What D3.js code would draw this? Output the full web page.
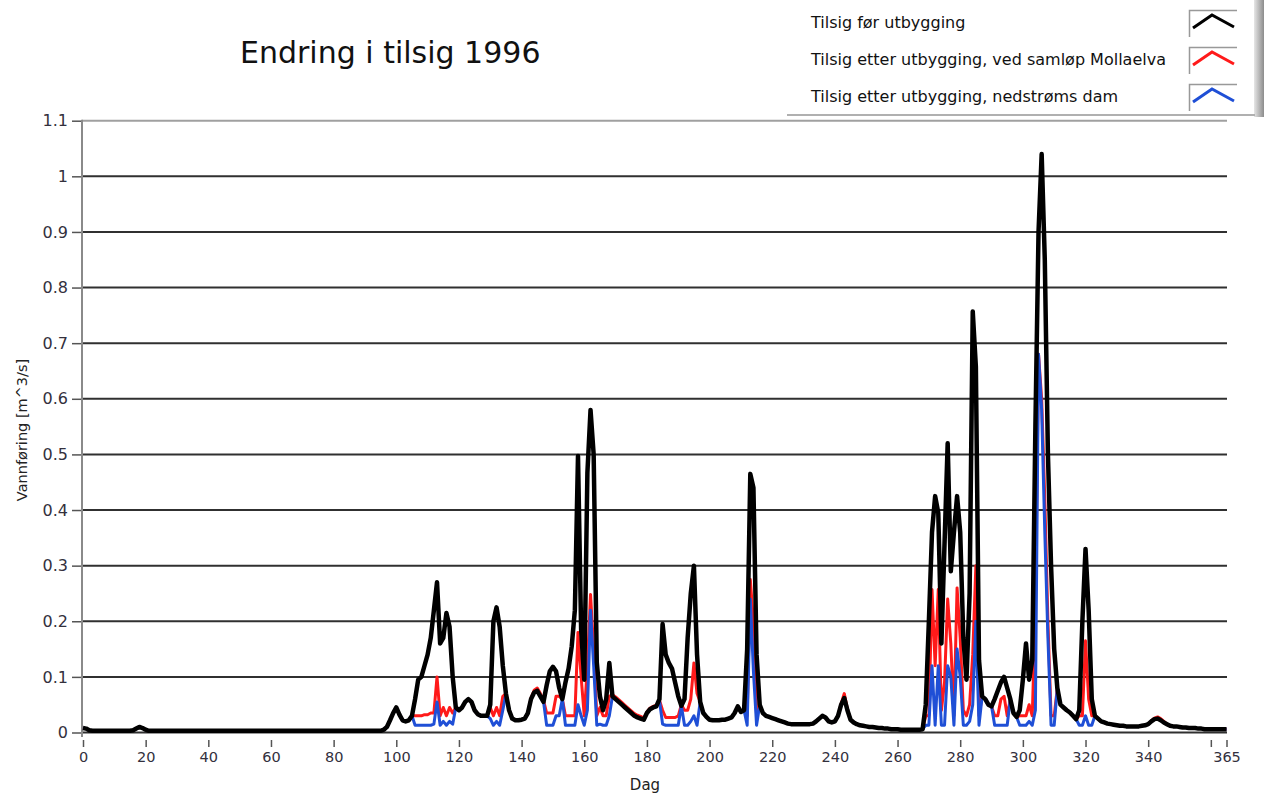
<!DOCTYPE html>
<html>
<head>
<meta charset="utf-8">
<script src="https://cdn.jsdelivr.net/npm/d3@7"></script>
<style>
  body { margin: 0; background: #fff; }
  svg { display: block; }
  text { font-family: "DejaVu Sans", Verdana, sans-serif; }
</style>
</head>
<body>
<div id="chart"></div>
<script>
// daily inflow, day 0..365 (m^3/s)
var tilsigFor = [
  0.008,0.007,0.004,0.003,0.003,0.003,0.003,0.003,0.003,0.003,
  0.003,0.003,0.003,0.003,0.003,0.003,0.004,0.007,0.01,0.008,
  0.005,0.003,0.003,0.003,0.003,0.003,0.003,0.003,0.003,0.003,
  0.003,0.003,0.003,0.003,0.003,0.003,0.003,0.003,0.003,0.003,
  0.003,0.003,0.003,0.003,0.003,0.003,0.003,0.003,0.003,0.003,
  0.003,0.003,0.003,0.003,0.003,0.003,0.003,0.003,0.003,0.003,
  0.003,0.003,0.003,0.003,0.003,0.003,0.003,0.003,0.003,0.003,
  0.003,0.003,0.003,0.003,0.003,0.003,0.003,0.003,0.003,0.003,
  0.003,0.003,0.003,0.003,0.003,0.003,0.003,0.003,0.003,0.003,
  0.003,0.003,0.003,0.003,0.003,0.003,0.005,0.01,0.022,0.035,
  0.045,0.032,0.022,0.02,0.022,0.03,0.06,0.095,0.1,0.12,
  0.14,0.17,0.22,0.27,0.16,0.17,0.215,0.19,0.1,0.045,
  0.04,0.045,0.055,0.06,0.055,0.04,0.033,0.03,0.03,0.03,
  0.05,0.2,0.225,0.19,0.12,0.07,0.04,0.025,0.022,0.022,
  0.023,0.025,0.035,0.06,0.072,0.075,0.065,0.055,0.085,0.11,
  0.118,0.11,0.08,0.06,0.09,0.115,0.155,0.22,0.497,0.185,
  0.095,0.467,0.58,0.5,0.126,0.065,0.04,0.06,0.125,0.065,
  0.06,0.055,0.05,0.045,0.04,0.035,0.03,0.027,0.025,0.023,
  0.035,0.042,0.045,0.047,0.06,0.195,0.14,0.125,0.115,0.09,
  0.065,0.048,0.06,0.17,0.25,0.3,0.14,0.055,0.035,0.028,
  0.023,0.022,0.022,0.022,0.023,0.023,0.025,0.027,0.035,0.047,
  0.037,0.04,0.15,0.465,0.44,0.14,0.05,0.035,0.03,0.028,
  0.026,0.024,0.022,0.02,0.018,0.016,0.015,0.015,0.015,0.015,
  0.015,0.015,0.015,0.016,0.02,0.025,0.03,0.027,0.02,0.018,
  0.02,0.03,0.05,0.062,0.04,0.023,0.018,0.015,0.013,0.012,
  0.011,0.01,0.01,0.009,0.008,0.008,0.007,0.007,0.006,0.006,
  0.006,0.005,0.005,0.005,0.005,0.005,0.005,0.005,0.006,0.05,
  0.2,0.36,0.425,0.395,0.16,0.34,0.52,0.29,0.36,0.425,
  0.36,0.17,0.095,0.25,0.757,0.658,0.13,0.065,0.06,0.05,
  0.047,0.06,0.075,0.09,0.1,0.08,0.06,0.035,0.028,0.04,
  0.095,0.16,0.095,0.13,0.55,0.9,1.04,0.85,0.5,0.3,
  0.15,0.08,0.05,0.045,0.04,0.036,0.03,0.024,0.04,0.2,
  0.33,0.22,0.06,0.03,0.025,0.02,0.018,0.016,0.015,0.014,
  0.013,0.012,0.012,0.011,0.011,0.011,0.011,0.011,0.012,0.013,
  0.015,0.02,0.024,0.025,0.022,0.018,0.015,0.012,0.011,0.011,
  0.01,0.009,0.009,0.008,0.008,0.008,0.007,0.007,0.006,0.006,
  0.006,0.006,0.006,0.006,0.006,0.006
];

var tilsigMollaelva = [
  0.008,0.007,0.004,0.003,0.003,0.003,0.003,0.003,0.003,0.003,
  0.003,0.003,0.003,0.003,0.003,0.003,0.004,0.007,0.01,0.008,
  0.005,0.003,0.003,0.003,0.003,0.003,0.003,0.003,0.003,0.003,
  0.003,0.003,0.003,0.003,0.003,0.003,0.003,0.003,0.003,0.003,
  0.003,0.003,0.003,0.003,0.003,0.003,0.003,0.003,0.003,0.003,
  0.003,0.003,0.003,0.003,0.003,0.003,0.003,0.003,0.003,0.003,
  0.003,0.003,0.003,0.003,0.003,0.003,0.003,0.003,0.003,0.003,
  0.003,0.003,0.003,0.003,0.003,0.003,0.003,0.003,0.003,0.003,
  0.003,0.003,0.003,0.003,0.003,0.003,0.003,0.003,0.003,0.003,
  0.003,0.003,0.003,0.003,0.003,0.003,0.005,0.01,0.022,0.035,
  0.045,0.032,0.022,0.02,0.022,0.03,0.03,0.03,0.03,0.032,
  0.032,0.035,0.035,0.1,0.03,0.045,0.03,0.045,0.035,0.045,
  0.04,0.045,0.055,0.06,0.055,0.04,0.033,0.03,0.03,0.03,
  0.045,0.03,0.045,0.03,0.065,0.07,0.04,0.025,0.022,0.022,
  0.023,0.025,0.035,0.062,0.076,0.08,0.07,0.058,0.035,0.035,
  0.035,0.065,0.065,0.06,0.03,0.03,0.03,0.03,0.18,0.1,
  0.03,0.12,0.248,0.15,0.03,0.045,0.03,0.03,0.065,0.068,
  0.064,0.059,0.054,0.049,0.044,0.039,0.034,0.031,0.029,0.026,
  0.037,0.044,0.047,0.049,0.058,0.04,0.027,0.027,0.027,0.027,
  0.03,0.05,0.04,0.04,0.06,0.125,0.07,0.055,0.035,0.028,
  0.023,0.022,0.022,0.022,0.023,0.023,0.025,0.027,0.035,0.047,
  0.037,0.04,0.03,0.275,0.2,0.03,0.05,0.035,0.03,0.028,
  0.026,0.024,0.022,0.02,0.018,0.016,0.015,0.015,0.015,0.015,
  0.015,0.015,0.015,0.016,0.02,0.025,0.03,0.027,0.02,0.018,
  0.02,0.03,0.052,0.07,0.042,0.023,0.018,0.015,0.013,0.012,
  0.011,0.01,0.01,0.009,0.008,0.008,0.007,0.007,0.006,0.006,
  0.006,0.005,0.005,0.005,0.005,0.005,0.005,0.005,0.006,0.03,
  0.03,0.257,0.12,0.257,0.04,0.09,0.24,0.16,0.03,0.26,
  0.17,0.04,0.03,0.05,0.14,0.3,0.03,0.065,0.06,0.05,
  0.047,0.03,0.03,0.06,0.065,0.03,0.06,0.035,0.028,0.03,
  0.03,0.03,0.05,0.03,0.22,0.68,0.6,0.42,0.2,0.03,
  0.03,0.08,0.05,0.045,0.04,0.036,0.03,0.024,0.03,0.03,
  0.165,0.06,0.03,0.03,0.025,0.02,0.018,0.016,0.015,0.014,
  0.013,0.012,0.012,0.011,0.011,0.011,0.011,0.011,0.012,0.013,
  0.015,0.021,0.026,0.028,0.025,0.02,0.015,0.012,0.011,0.011,
  0.01,0.009,0.009,0.008,0.008,0.008,0.007,0.007,0.006,0.006,
  0.006,0.006,0.006,0.006,0.006,0.006
];

var tilsigDam = [
  0.008,0.007,0.004,0.003,0.003,0.003,0.003,0.003,0.003,0.003,
  0.003,0.003,0.003,0.003,0.003,0.003,0.004,0.007,0.01,0.008,
  0.005,0.003,0.003,0.003,0.003,0.003,0.003,0.003,0.003,0.003,
  0.003,0.003,0.003,0.003,0.003,0.003,0.003,0.003,0.003,0.003,
  0.003,0.003,0.003,0.003,0.003,0.003,0.003,0.003,0.003,0.003,
  0.003,0.003,0.003,0.003,0.003,0.003,0.003,0.003,0.003,0.003,
  0.003,0.003,0.003,0.003,0.003,0.003,0.003,0.003,0.003,0.003,
  0.003,0.003,0.003,0.003,0.003,0.003,0.003,0.003,0.003,0.003,
  0.003,0.003,0.003,0.003,0.003,0.003,0.003,0.003,0.003,0.003,
  0.003,0.003,0.003,0.003,0.003,0.003,0.005,0.01,0.022,0.035,
  0.045,0.032,0.022,0.02,0.022,0.03,0.013,0.013,0.013,0.013,
  0.013,0.013,0.015,0.055,0.013,0.02,0.013,0.02,0.015,0.045,
  0.04,0.045,0.055,0.06,0.055,0.04,0.033,0.03,0.03,0.03,
  0.025,0.013,0.02,0.013,0.04,0.07,0.04,0.025,0.022,0.022,
  0.023,0.025,0.035,0.06,0.072,0.075,0.065,0.055,0.013,0.013,
  0.013,0.03,0.03,0.06,0.013,0.013,0.013,0.013,0.05,0.03,
  0.013,0.04,0.22,0.12,0.013,0.015,0.013,0.013,0.03,0.065,
  0.06,0.055,0.05,0.045,0.04,0.035,0.03,0.027,0.025,0.023,
  0.035,0.042,0.045,0.047,0.058,0.015,0.013,0.013,0.013,0.013,
  0.013,0.048,0.013,0.013,0.02,0.03,0.013,0.055,0.035,0.028,
  0.023,0.022,0.022,0.022,0.023,0.023,0.025,0.027,0.035,0.047,
  0.037,0.04,0.013,0.24,0.11,0.013,0.05,0.035,0.03,0.028,
  0.026,0.024,0.022,0.02,0.018,0.016,0.015,0.015,0.015,0.015,
  0.015,0.015,0.015,0.016,0.02,0.025,0.03,0.027,0.02,0.018,
  0.02,0.03,0.05,0.062,0.04,0.023,0.018,0.015,0.013,0.012,
  0.011,0.01,0.01,0.009,0.008,0.008,0.007,0.007,0.006,0.006,
  0.006,0.005,0.005,0.005,0.005,0.005,0.005,0.005,0.006,0.013,
  0.013,0.12,0.013,0.12,0.013,0.013,0.12,0.1,0.013,0.15,
  0.1,0.013,0.013,0.02,0.05,0.2,0.013,0.065,0.06,0.05,
  0.047,0.013,0.013,0.013,0.013,0.013,0.06,0.035,0.028,0.013,
  0.013,0.013,0.02,0.013,0.04,0.68,0.58,0.36,0.17,0.013,
  0.013,0.08,0.05,0.045,0.04,0.036,0.03,0.024,0.013,0.013,
  0.03,0.013,0.013,0.03,0.025,0.02,0.018,0.016,0.015,0.014,
  0.013,0.012,0.012,0.011,0.011,0.011,0.011,0.011,0.012,0.013,
  0.015,0.02,0.024,0.025,0.022,0.018,0.015,0.012,0.011,0.011,
  0.01,0.009,0.009,0.008,0.008,0.008,0.007,0.007,0.006,0.006,
  0.006,0.006,0.006,0.006,0.006,0.006
];

var yTicks = [0, 0.1, 0.2, 0.3, 0.4, 0.5, 0.6, 0.7, 0.8, 0.9, 1, 1.1];
var xTicks = [0, 20, 40, 60, 80, 100, 120, 140, 160, 180, 200, 220, 240, 260, 280, 300, 320, 340, 360, 365];
var xTickLabels = ["0","20","40","60","80","100","120","140","160","180","200","220","240","260","280","300","320","340","","365"];
var seriesNames = ["Tilsig før utbygging", "Tilsig etter utbygging, ved samløp Mollaelva", "Tilsig etter utbygging, nedstrøms dam"];
var seriesColors = ["#000000", "#ff1a1a", "#1f4fd6"];

var width = 1264, height = 796;

var svg = d3.select("#chart").append("svg")
    .attr("width", width)
    .attr("height", height);

var x = d3.scaleLinear().domain([0, 365]).range([83, 1226.5]);
var y = d3.scaleLinear().domain([0, 1.1]).range([732.5, 120.7]);

// grid
svg.append("g").selectAll("line")
    .data(yTicks)
    .enter().append("line")
    .attr("x1", 82).attr("x2", 1227)
    .attr("y1", d => y(d)).attr("y2", d => y(d))
    .attr("stroke", d => d === 1.1 ? "#a0a0a0" : "#303030")
    .attr("stroke-width", 2);

// y axis
svg.append("line")
    .attr("x1", 82).attr("x2", 82)
    .attr("y1", y(1.1) - 1).attr("y2", 737)
    .attr("stroke", "#8a8a8a").attr("stroke-width", 2);

var yAxis = svg.append("g")
    .attr("transform", "translate(81,0)")
    .call(d3.axisLeft(y).tickValues(yTicks).tickSize(9).tickPadding(4).tickFormat(d3.format("~g")));
yAxis.select(".domain").remove();
yAxis.selectAll(".tick line").attr("stroke", "#555").attr("stroke-width", 1.5);
yAxis.selectAll(".tick text")
    .attr("fill", "#33303d")
    .style("font-size", "16px")
    .style("font-family", "DejaVu Sans, sans-serif");

// x axis
var xAxis = svg.append("g")
    .attr("transform", "translate(0,740)")
    .call(d3.axisBottom(x).tickValues(xTicks).tickSize(7).tickPadding(5)
      .tickFormat((d, i) => xTickLabels[i]));
xAxis.select(".domain").remove();
xAxis.selectAll(".tick line").attr("stroke", "#555").attr("stroke-width", 1.5);
xAxis.selectAll(".tick text")
    .attr("fill", "#33303d")
    .style("font-size", "14.5px")
    .style("font-family", "DejaVu Sans, sans-serif");

// series, black drawn last (on top)
var line = d3.line()
    .x((d, i) => x(i))
    .y(d => y(d));

svg.append("path").datum(tilsigMollaelva)
    .attr("d", line).attr("fill", "none")
    .attr("stroke", seriesColors[1]).attr("stroke-width", 3)
    .attr("stroke-linejoin", "round");
svg.append("path").datum(tilsigDam)
    .attr("d", line).attr("fill", "none")
    .attr("stroke", seriesColors[2]).attr("stroke-width", 3)
    .attr("stroke-linejoin", "round");
svg.append("path").datum(tilsigFor)
    .attr("d", line).attr("fill", "none")
    .attr("stroke", seriesColors[0]).attr("stroke-width", 4.5)
    .attr("stroke-linejoin", "round");

// labels
svg.append("text")
    .attr("x", 240).attr("y", 63)
    .style("font-size", "30px")
    .attr("fill", "#111")
    .text("Endring i tilsig 1996");

svg.append("text")
    .attr("transform", "translate(27,430) rotate(-90)")
    .attr("text-anchor", "middle")
    .style("font-size", "14.5px")
    .attr("fill", "#222")
    .text("Vannføring [m^3/s]");

svg.append("text")
    .attr("x", 645).attr("y", 790)
    .attr("text-anchor", "middle")
    .style("font-size", "15px")
    .attr("fill", "#222")
    .text("Dag");

// legend panel
var defs = svg.append("defs");
var grad = defs.append("linearGradient").attr("id", "shade");
grad.append("stop").attr("offset", "0%").attr("stop-color", "#e6e6e6");
grad.append("stop").attr("offset", "100%").attr("stop-color", "#8c8c8c");

var legend = svg.append("g");
legend.append("rect")
    .attr("x", 787).attr("y", 0).attr("width", 467).attr("height", 114)
    .attr("fill", "#fff");
legend.append("rect")
    .attr("x", 1254).attr("y", 0).attr("width", 10).attr("height", 117)
    .attr("fill", "url(#shade)");
legend.append("line")
    .attr("x1", 787).attr("x2", 1255).attr("y1", 115).attr("y2", 115)
    .attr("stroke", "#b0b0b0").attr("stroke-width", 2);

var item = legend.selectAll(".item")
    .data(seriesNames)
    .enter().append("g")
    .attr("transform", (d, i) => "translate(0," + (i * 37) + ")");

item.append("text")
    .attr("x", 811).attr("y", 28)
    .style("font-size", "16px")
    .attr("fill", "#111")
    .text(d => d);

item.append("path")
    .attr("d", "M1189.5,37V10.5H1237")
    .attr("fill", "none")
    .attr("stroke", "#999").attr("stroke-width", 1.5);

item.append("polyline")
    .attr("points", "1193,28 1212,15 1234,27")
    .attr("fill", "none")
    .attr("stroke", (d, i) => seriesColors[i])
    .attr("stroke-width", 3);
</script>
</body>
</html>
